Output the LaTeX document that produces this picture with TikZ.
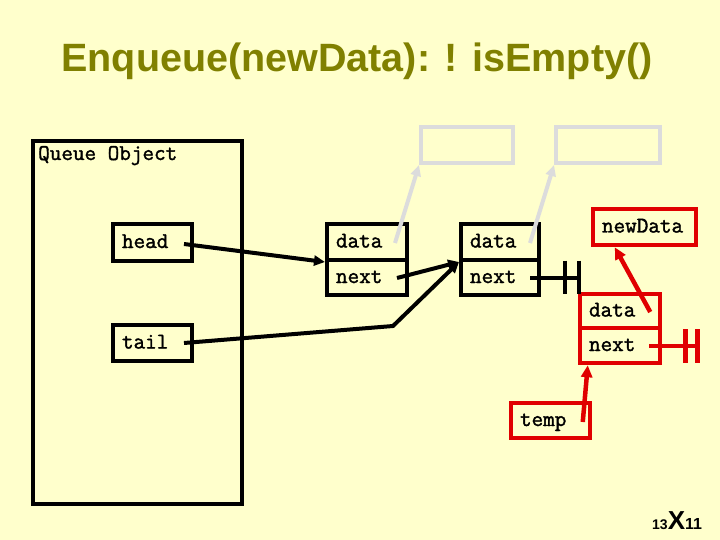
\documentclass[tikz,border=0pt]{standalone}
\usepackage{fontspec}
\setmainfont{Liberation Sans}
\newfontfamily\courfam{Latin Modern Mono}[FakeBold=1.6]
\usetikzlibrary{arrows.meta,calc}
\definecolor{bgc}{HTML}{FFFFCC}
\definecolor{titlec}{HTML}{808000}
\definecolor{redc}{HTML}{E00000}
\definecolor{grayc}{HTML}{DCDCDC}
\begin{document}
\begin{tikzpicture}[x=1pt,y=-1pt,
  boxtext/.style={font=\courfam\fontsize{22.5}{22.5}\selectfont},
  bx/.style={boxtext, rectangle, draw=black, line width=4pt, inner xsep=9pt, inner ysep=0pt,
    align=left, text height=15pt, text depth=4pt},
  redbx/.style={bx, draw=redc, line width=4.5pt},
  graybx/.style={rectangle, draw=grayc, line width=4pt, inner sep=0pt},
  blackline/.style={draw=black, line width=4pt},
  blackarrow/.style={blackline, -{Triangle[length=11pt,width=10pt]}},
  grayarrow/.style={draw=grayc, line width=4pt, -{Triangle[length=11pt,width=10pt]}},
  redline/.style={draw=redc, line width=4.5pt},
  redarrow/.style={redline, -{Triangle[length=12pt,width=11pt]}}
]
\fill[bgc] (0,0) rectangle (720,540);
\useasboundingbox (0,0) rectangle (720,540);

% title
\node[anchor=base, inner sep=0pt, text=titlec, font=\bfseries\fontsize{39.5}{39.5}\selectfont] (title) at (357,72) {Enqueue(newData): ! isEmpty()};

% queue object
\node[rectangle, draw=black, line width=4pt, inner sep=0pt, minimum width=209pt, minimum height=363pt, anchor=north west] (qobj) at (31,139) {};
\node[boxtext, anchor=base west, inner sep=0pt] (qlabel) at (38,160) {Queue Object};

\node[bx, text width=61pt, minimum height=37pt] (head) at (152.5,242.5) {head};
\node[bx, text width=61pt, minimum height=36pt] (tail) at (152.5,343) {tail};

% list nodes
\node[bx, text width=62pt, minimum height=36pt] (d1) at (367,242) {data};
\node[bx, text width=62pt, minimum height=35pt] (n1) at (367,277.5) {next};
\node[bx, text width=60pt, minimum height=36pt] (d2) at (500,242) {data};
\node[bx, text width=60pt, minimum height=35pt] (n2) at (500,277.5) {next};

% gray data boxes
\node[graybx, minimum width=92pt, minimum height=36pt] (g1) at (467,145) {};
\node[graybx, minimum width=104pt, minimum height=36pt] (g2) at (608,145) {};

% red nodes
\node[redbx, text width=85pt, minimum height=36pt] (nd) at (644.5,227) {newData};
\node[redbx, text width=62pt, minimum height=34pt] (d3) at (620,311) {data};
\node[redbx, text width=62pt, minimum height=35pt] (n3) at (620,345.5) {next};
\node[redbx, text width=61pt, minimum height=35pt] (temp) at (550.5,420.5) {temp};

% coordinates
\coordinate (hs) at ($(head.east)+(-10,1.5)$);
\coordinate (ts) at ($(tail.east)+(-10,0)$);
\coordinate (tb) at (393,326);
\coordinate (n1s) at ($(n1.east)+(-12,0.5)$);
\coordinate (n2s) at ($(n2.east)+(-11,0)$);
\coordinate (gnd2) at ($(n2.east)+(38,0)$);
\coordinate (g1s) at ($(d1.east)+(-14,1)$);
\coordinate (g2s) at ($(d2.east)+(-11,1)$);
\coordinate (r1s) at ($(d3.east)+(-12,1)$);
\coordinate (ndin) at ($(nd.south west)+(24,0)$);
\coordinate (r2s) at ($(temp.east)+(-9.5,1.5)$);
\coordinate (n3in) at ($(n3.south west)+(10,0)$);
\coordinate (n3s) at ($(n3.east)+(-13,0.5)$);
\coordinate (gnd3) at ($(n3.east)+(35,0.5)$);

% gray connectors
\draw[grayarrow] (g1s) -- (g1.south west);
\draw[grayarrow] (g2s) -- (g2.south west);

% black connectors
\draw[blackarrow] (hs) -- (d1.south west);
\draw[blackarrow] (n1s) -- (d2.south west);
\draw[blackarrow] (ts) -- (tb) -- (d2.south west);
\draw[blackline] (n2s) -- (gnd2);
\draw[blackline] ($(gnd2)+(0,-17)$) -- ($(gnd2)+(0,16)$);
\draw[blackline] ($(gnd2)+(-14,-17)$) -- ($(gnd2)+(-14,16)$);

% red connectors
\draw[redarrow] (r1s) -- (ndin);
\draw[redarrow] (r2s) -- (n3in);
\draw[redline] (n3s) -- (gnd3);
\draw[redline] ($(gnd3)+(0,-17)$) -- ($(gnd3)+(0,17)$);
\draw[redline] ($(gnd3)+(-12,-17)$) -- ($(gnd3)+(-12,17)$);

% footer
\node[anchor=base west, inner sep=0pt, font=\bfseries] (pg) at (652,529) {\fontsize{14}{14}\selectfont 13\fontsize{26}{26}\selectfont X\fontsize{16}{16}\selectfont 11};
\end{tikzpicture}
\end{document}
